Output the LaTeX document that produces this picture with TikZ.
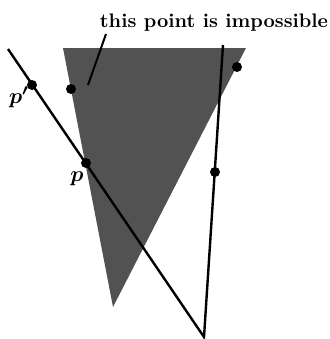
\documentclass[tikz,border=0pt]{standalone}
\usepackage{bm}
\begin{document}
\begin{tikzpicture}[x=0.5pt,y=-0.5pt,
  edge/.style={line width=1.2pt},
  dot/.style={circle,fill=black,inner sep=0pt,minimum size=5pt},
  lbl/.style={inner sep=0pt,anchor=base,font=\fontsize{11}{13}\selectfont},
  shade/.style={fill=black!68}]
\useasboundingbox (0,0) rectangle (330,339);
% shaded triangle
\coordinate (tl) at (63,48);
\coordinate (tr) at (246,48);
\coordinate (ap) at (113,307);
\fill[shade] (tl) -- (tr) -- (ap) -- cycle;
% lines
\coordinate (a) at (8,49);
\coordinate (b) at (204,337);
\coordinate (c) at (223,45);
\draw[edge] (a) -- (b) -- (c);
% points
\node[dot] (pp) at (32,85) {};
\node[dot] (p) at (86,163) {};
\node[dot] (q) at (71,89) {};
\node[dot] (r) at (237,67) {};
\node[dot] (s) at (215,172) {};
% labels
\node[lbl] (lpp) at (19,103) {$\bm{p'}$};
\node[lbl] (lp) at (77,181) {$\bm{p}$};
\node[lbl,font=\fontsize{9.8}{12}\selectfont\bfseries] (txt) at (214,27) {this point is impossible};
\coordinate (ptr) at (88,85);
\draw[line width=1pt] (106,34) -- (ptr);
\end{tikzpicture}
\end{document}
